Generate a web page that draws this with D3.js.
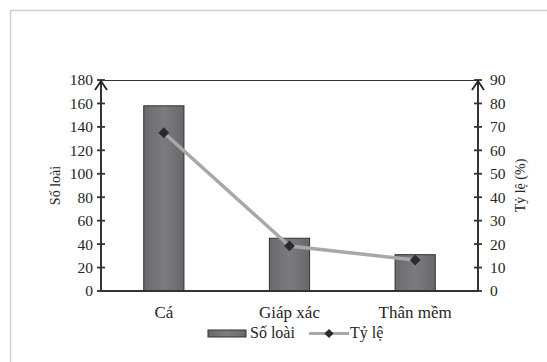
<!DOCTYPE html>
<html><head><meta charset="utf-8">
<script src="https://cdn.jsdelivr.net/npm/d3@7"></script>
<style>body{margin:0;background:#fff}svg{display:block}text{font-family:"Liberation Serif","DejaVu Serif",serif;fill:#262626}</style>
</head><body>
<svg id="c" width="547" height="362"></svg>
<script>
const categories = ["Cá", "Giáp xác", "Thân mềm"];
const soLoai = [158, 45, 31];
const tyLe = [67.5, 19.2, 13.2];
const leftTicks = [0,20,40,60,80,100,120,140,160,180];
const rightTicks = [0,10,20,30,40,50,60,70,80,90];

const svg = d3.select("#c");
const L = 101, R = 478, T = 80, B = 291;

// outer border
svg.append("rect").attr("x",10.5).attr("y",10.5).attr("width",560).attr("height",380)
  .attr("fill","none").attr("stroke","#cfcfcf").attr("stroke-width",1.5);

const x = d3.scaleBand().domain(categories).range([L,R]).paddingInner(0.68).paddingOuter(0.34);
const yL = d3.scaleLinear().domain([0,180]).range([B,T]);
const yR = d3.scaleLinear().domain([0,90]).range([B,T]);

const defs = svg.append("defs");
const g = defs.append("linearGradient").attr("id","bg").attr("x1","0").attr("x2","1").attr("y1","0").attr("y2","0");
g.append("stop").attr("offset","0").attr("stop-color","#6a6a6e");
g.append("stop").attr("offset","0.5").attr("stop-color","#7c7c80");
g.append("stop").attr("offset","1").attr("stop-color","#68686c");

// top frame line
svg.append("line").attr("x1",L).attr("x2",R).attr("y1",T+0.5).attr("y2",T+0.5).attr("stroke","#333").attr("stroke-width",1.2);

// bars
svg.selectAll("rect.bar").data(soLoai).enter().append("rect").attr("class","bar")
  .attr("x",(d,i)=>x(categories[i])).attr("width",x.bandwidth())
  .attr("y",d=>yL(d)).attr("height",d=>B-yL(d))
  .attr("fill","url(#bg)").attr("stroke","#333").attr("stroke-width",1);

// baseline
svg.append("line").attr("x1",L).attr("x2",R).attr("y1",B).attr("y2",B).attr("stroke","#333").attr("stroke-width",2);

// axes
function drawAxis(xp, scale, ticks, side){
  const a = svg.append("g");
  a.append("line").attr("x1",xp).attr("x2",xp).attr("y1",T).attr("y2",B).attr("stroke","#333").attr("stroke-width",2);
  a.selectAll("line.t").data(ticks).enter().append("line").attr("class","t")
    .attr("x1",xp-4).attr("x2",xp+4).attr("y1",d=>scale(d)).attr("y2",d=>scale(d))
    .attr("stroke","#333").attr("stroke-width",1.8);
  a.append("path").attr("d",`M${xp-6},${T+10} L${xp},${T+1} L${xp+6},${T+10}`)
    .attr("fill","none").attr("stroke","#222").attr("stroke-width",1.8);
  a.selectAll("text").data(ticks).enter().append("text")
    .attr("x", side==="left" ? xp-8 : xp+12)
    .attr("y",d=>scale(d)).attr("dy","0.35em")
    .attr("text-anchor", side==="left" ? "end" : "start")
    .attr("font-size",15.5).text(d=>d);
}
drawAxis(L, yL, leftTicks, "left");
drawAxis(R, yR, rightTicks, "right");

// axis titles
svg.append("text").attr("transform",`translate(60,${(T+B)/2}) rotate(-90)`).attr("text-anchor","middle")
  .attr("font-size",14).text("Số loài");
svg.append("text").attr("transform",`translate(525,${(T+B)/2}) rotate(-90)`).attr("text-anchor","middle")
  .attr("font-size",14).text("Tỷ lệ (%)");

// line
const cx = c => x(c)+x.bandwidth()/2;
const line = d3.line().x((d,i)=>cx(categories[i])).y(d=>yR(d));
svg.append("path").datum(tyLe).attr("d",line).attr("fill","none").attr("stroke","#a8a8a8").attr("stroke-width",3.5);
svg.selectAll("path.m").data(tyLe).enter().append("path").attr("class","m")
  .attr("d",d3.symbol(d3.symbolSquare,58)())
  .attr("transform",(d,i)=>`translate(${cx(categories[i])},${yR(d)}) rotate(45)`)
  .attr("fill","#2a2a2a");

// category labels
svg.selectAll("text.cat").data(categories).enter().append("text").attr("class","cat")
  .attr("x",d=>cx(d)).attr("y",318).attr("text-anchor","middle").attr("font-size",17).text(d=>d);

// legend
const lg = svg.append("g");
lg.append("rect").attr("x",208).attr("y",330).attr("width",38).attr("height",7).attr("fill","url(#bg)").attr("stroke","#333").attr("stroke-width",1);
lg.append("text").attr("x",250).attr("y",338).attr("font-size",16).text("Số loài");
lg.append("line").attr("x1",309).attr("x2",349).attr("y1",333.5).attr("y2",333.5).attr("stroke","#a8a8a8").attr("stroke-width",3);
lg.append("path").attr("d",d3.symbol(d3.symbolSquare,42)()).attr("transform","translate(329,333.5) rotate(45)").attr("fill","#2a2a2a");
lg.append("text").attr("x",350).attr("y",338).attr("font-size",16).text("Tỷ lệ");
</script>
</body></html>
